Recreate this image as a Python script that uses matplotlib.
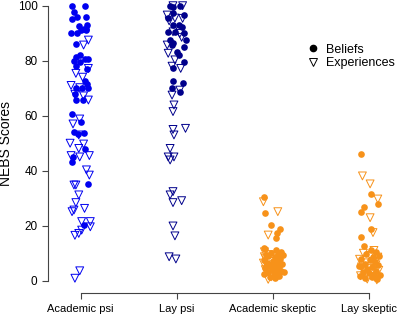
import numpy as np
import matplotlib
matplotlib.use("Agg")
import matplotlib.pyplot as plt
from matplotlib.lines import Line2D

plt.rcParams['font.family'] = ['Liberation Sans', 'DejaVu Sans']

groups = ["Academic psi", "Lay psi", "Academic skeptic", "Lay skeptic"]
colors = ["#0000F0", "#00008B", "#F7921A", "#F7921A"]

# scores; offsets are the horizontal jitter of each point
acpsi_bel = [100, 100, 97.6, 95, 95.8, 95.8, 93, 92.5, 91.5, 91, 91.5, 90, 90, 91, 86, 82, 81.5, 80.5,
             80, 79.5, 78, 80.5, 77, 72.5, 71.5, 70, 70, 70, 68, 65.7, 65.7, 60.5, 57.8, 54, 53.4, 53.6,
             47.9, 45, 43.3, 35.2, 20.3]
acpsi_bel_off = [-0.09, 0.04, -0.07, -0.09, -0.04, 0.05, 0.07, -0.02, 0.03, 0.00, 0.06, -0.10, -0.04, 0.05,
                 -0.05, -0.01, -0.05, 0.04, -0.07, -0.01, -0.05, 0.08, 0.07, 0.04, 0.07, 0.01, -0.05, 0.08,
                 -0.06, -0.05, 0.02, -0.09, 0.00, -0.07, -0.03, 0.03, 0.04, -0.08, -0.09, 0.08, 0.03]
acpsi_exp = [87.5, 85.7, 77.2, 75.4, 74, 71, 70.2, 67.8, 67.2, 65.7, 58.8, 57, 53, 50, 48.1, 49.7, 45.5, 45,
             45.5, 40.3, 38.4, 34.8, 34.8, 31.2, 28.4, 25.7, 25.1, 26.3, 21.5, 21.5, 19.6, 18.4, 17.2, 16.5,
             3.6, 0.9]
acpsi_exp_off = [0.08, 0.03, 0.08, -0.05, 0.02, -0.10, -0.01, -0.06, 0.03, 0.08, -0.01, -0.08, -0.02, -0.11,
                 -0.02, 0.03, -0.10, -0.01, 0.09, 0.06, 0.09, -0.07, -0.05, -0.02, -0.05, -0.07, -0.09, 0.04,
                 0.01, 0.10, 0.10, 0.01, -0.02, -0.06, -0.01, -0.06]

laypsi_bel = [100, 99.4, 99.9, 96.6, 95.4, 97.2, 93, 93, 92.4, 90.5, 90.5, 90, 87.5, 85.7, 87.5, 85, 82, 79.6,
              77.2, 72.6, 72, 70, 68.7, 86.5, 83.3]
laypsi_bel_off = [-0.07, -0.04, 0.03, 0.07, -0.09, -0.04, -0.04, 0.02, 0.05, -0.09, -0.02, 0.07, -0.07, -0.05,
                  0.09, 0.07, 0.02, 0.07, -0.04, -0.04, 0.06, -0.05, 0.03, -0.04, 0.00]
laypsi_exp = [100, 100, 96.6, 95.4, 94.5, 95.5, 90.5, 89.9, 88.5, 85.7, 82.7, 80.3, 78, 77.2, 69.3, 67.5, 63.9,
              61.5, 55, 55.4, 53, 48.1, 45, 45, 43.9, 32.4, 31.2, 28.4, 29.1, 19.9, 16.3, 8.7, 7.9]
laypsi_exp_off = [-0.04, 0.06, -0.10, 0.06, -0.08, -0.02, -0.04, 0.03, 0.05, -0.10, -0.09, -0.02, -0.05, 0.04,
                  0.03, -0.05, -0.03, -0.04, -0.04, 0.09, -0.03, -0.07, -0.09, -0.03, -0.07, -0.04, -0.07,
                  -0.04, 0.05, -0.04, -0.02, -0.08, -0.01]

acsk_bel = [30.5, 24.7, 20.3, 18.8, 17.2, 15.4, 11.8, 11.5, 11.0, 10.5, 10.0, 9.8, 9.2, 8.8, 8.5, 8.0, 7.5, 7.2,
            6.8, 6.5, 6.0, 5.7, 5.3, 5.0, 4.6, 4.2, 3.8, 3.5, 3.0, 2.7, 2.3, 2.0, 1.6, 1.2, 0.8, 3.2, 9.5]
acsk_bel_off = [-0.09, -0.08, -0.02, 0.07, 0.04, 0.03, -0.09, -0.08, 0.03, 0.08, -0.02, 0.05, 0.10, -0.05,
                0.02, 0.07, -0.09, 0.00, 0.04, -0.06, 0.09, 0.01, -0.03, 0.06, -0.08, 0.03, -0.01, 0.08,
                -0.05, 0.04, -0.09, 0.01, 0.06, -0.03, 0.02, 0.11, -0.07]
acsk_exp = [28.7, 25.1, 16.6, 8.7, 10.5, 9.5, 9.0, 8.2, 7.6, 7.0, 6.4, 5.8, 5.2, 4.6, 4.0, 3.4, 2.8, 2.0, 1.4, 0.5]
acsk_exp_off = [-0.10, 0.05, -0.05, -0.09, -0.09, -0.04, 0.02, -0.08, 0.05, -0.03, -0.10, 0.00, -0.06, 0.04,
                -0.08, 0.02, -0.04, 0.06, -0.02, -0.05]

laysk_bel = [46, 31.4, 27.8, 26.9, 24.9, 18.8, 15.8, 12.6, 11.2, 10.5, 9.8, 9.0, 8.5, 7.8, 7.4, 6.8, 6.2, 5.8,
             5.2, 4.8, 4.2, 3.7, 3.2, 2.8, 2.4, 1.8, 1.4, 1.0, 0.6, 2.0, 5.5]
laysk_bel_off = [-0.09, 0.02, 0.09, -0.05, -0.08, 0.02, -0.08, -0.05, 0.02, 0.07, -0.03, 0.10, 0.04, -0.08,
                 0.01, 0.06, -0.04, 0.09, -0.09, 0.03, -0.02, 0.07, -0.06, 0.00, 0.05, -0.10, 0.03, -0.04,
                 0.08, 0.11, -0.11]
laysk_exp = [38.1, 35.2, 29.7, 22.9, 17.5, 11.0, 10.0, 9.2, 8.6, 7.8, 7.0, 6.5, 5.8, 5.0, 4.5, 3.8, 3.2, 2.5,
             1.8, 1.2, 0.6, 0.3]
laysk_exp_off = [-0.07, 0.01, 0.09, 0.01, 0.04, 0.05, -0.06, 0.01, 0.09, -0.10, 0.04, -0.03, 0.07, -0.08, 0.00,
                 0.10, -0.05, 0.03, -0.09, 0.06, -0.02, 0.08]

beliefs = [(acpsi_bel, acpsi_bel_off), (laypsi_bel, laypsi_bel_off), (acsk_bel, acsk_bel_off), (laysk_bel, laysk_bel_off)]
experiences = [(acpsi_exp, acpsi_exp_off), (laypsi_exp, laypsi_exp_off), (acsk_exp, acsk_exp_off), (laysk_exp, laysk_exp_off)]

fig = plt.figure(figsize=(4, 3.17), dpi=100)
ax = fig.add_axes([0.12, 0.0767, 0.875, 0.9227])

for i in range(len(groups)):
    vals, off = experiences[i]
    ax.scatter(i + 1 + np.array(off), vals, s=32, marker='v', facecolors='none',
               edgecolors=colors[i], linewidths=0.7, zorder=2)
    vals, off = beliefs[i]
    ax.scatter(i + 1 + np.array(off), vals, s=23, marker='o', color=colors[i],
               linewidths=0, zorder=3)

ax.set_xlim(0.66, 4.3)
ax.set_ylim(-4.36, 102)
for s in ['top', 'right']:
    ax.spines[s].set_visible(False)
ax.spines['left'].set_bounds(0, 100)
ax.spines['bottom'].set_bounds(1, 4)
for s in ['left', 'bottom']:
    ax.spines[s].set_color('#444444')
    ax.spines[s].set_linewidth(0.8)
ax.set_xticks(range(1, 5))
ax.set_xticklabels(groups)
ax.set_yticks(range(0, 101, 20))
ax.tick_params(axis='both', direction='out', length=4, width=0.8, color='#444444', labelsize=8)
ax.tick_params(axis='y', labelsize=8.5, pad=3.5)
ax.tick_params(axis='x', pad=4)
ax.set_ylabel("NEBS Scores", fontsize=10)
ax.yaxis.set_label_coords(-0.1, 0.51)

handles = [Line2D([], [], marker='o', color='black', ls='none', markersize=4.5),
           Line2D([], [], marker='v', markerfacecolor='none', markeredgecolor='black',
                  markeredgewidth=0.7, ls='none', markersize=6)]
ax.legend(handles, ["Beliefs", "Experiences"], loc='upper left', bbox_to_anchor=(0.752, 0.882),
          bbox_transform=fig.transFigure, frameon=False, fontsize=9, handlelength=1,
          handletextpad=0.5, labelspacing=0.12, borderpad=0)

fig.savefig("out.png", dpi=100)
